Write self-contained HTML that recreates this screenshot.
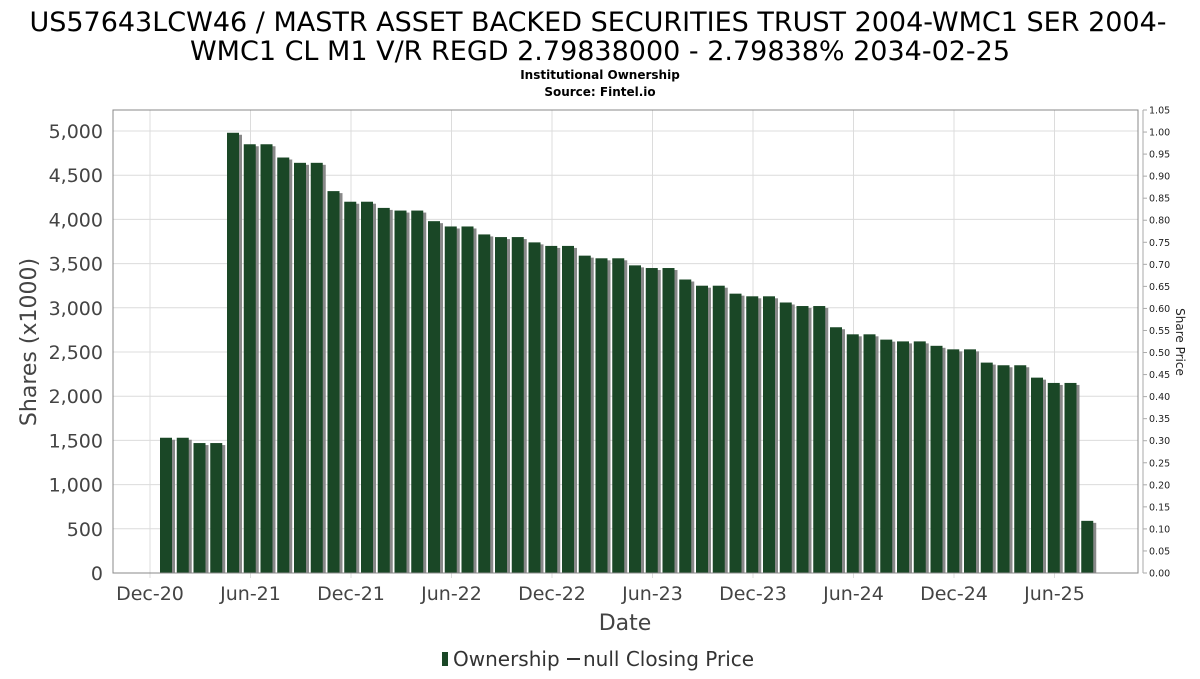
<!DOCTYPE html>
<html><head><meta charset="utf-8"><style>
body{margin:0;background:#fff;width:1200px;height:675px;overflow:hidden;font-family:"DejaVu Sans","Liberation Sans",sans-serif}
</style></head><body>
<svg id="c" width="1200" height="675" xmlns="http://www.w3.org/2000/svg">
<text x="598" y="31" text-anchor="middle" font-size="27" fill="#000">US57643LCW46 / MASTR ASSET BACKED SECURITIES TRUST 2004-WMC1 SER 2004-</text>
<text x="600" y="60" text-anchor="middle" font-size="27" fill="#000">WMC1 CL M1 V/R REGD 2.79838000 - 2.79838% 2034-02-25</text>
<text x="600" y="79" text-anchor="middle" font-size="12" font-weight="bold">Institutional Ownership</text>
<text x="600" y="96" text-anchor="middle" font-size="12" font-weight="bold">Source: Fintel.io</text>
<g id="grid"></g>
<g id="bars"></g>
<rect x="113" y="110" width="1025" height="463" fill="none" stroke="#888"/>
<g id="axes"></g>
<text x="36" y="342" transform="rotate(-90 36 342)" text-anchor="middle" font-size="22" fill="#444">Shares (x1000)</text>
<text x="1176" y="342" transform="rotate(90 1176 342)" text-anchor="middle" font-size="12" fill="#222">Share Price</text>
<text x="625" y="630" text-anchor="middle" font-size="22" fill="#444">Date</text>
<g>
<rect x="442" y="652" width="6" height="14" fill="#1a4726"/>
<text x="453" y="666" font-size="20" fill="#333">Ownership</text>
<line x1="567" y1="659" x2="580" y2="659" stroke="#333" stroke-width="2"/>
<text x="583" y="666" font-size="20" fill="#333">null Closing Price</text>
</g>
</svg>
<script>
const values=[1530,1530,1470,1470,4980,4850,4850,4700,4640,4640,4320,4200,4200,4130,4100,4100,3980,3920,3920,3830,3800,3800,3740,3700,3700,3590,3560,3560,3480,3450,3450,3320,3250,3250,3160,3130,3130,3060,3020,3020,2780,2700,2700,2640,2620,2620,2570,2530,2530,2380,2350,2350,2210,2150,2150,590];
const yTicks=[0,500,1000,1500,2000,2500,3000,3500,4000,4500,5000];
const xLabels=["Dec-20","Jun-21","Dec-21","Jun-22","Dec-22","Jun-23","Dec-23","Jun-24","Dec-24","Jun-25"];
const priceTicks=["0.00","0.05","0.10","0.15","0.20","0.25","0.30","0.35","0.40","0.45","0.50","0.55","0.60","0.65","0.70","0.75","0.80","0.85","0.90","0.95","1.00","1.05"];
const NS="http://www.w3.org/2000/svg";
const y=v=>573-v*(442/5000);
const xm=i=>160+i*16.75;
const xt=i=>150+i*100.5;
const py=p=>573-p*(463/1.05);
function mk(t,a,parent){const e=document.createElementNS(NS,t);for(const k in a)e.setAttribute(k,a[k]);document.getElementById(parent).appendChild(e);return e;}
yTicks.forEach((v,i)=>{
 const g=mk('line',{x1:113,x2:1138,y1:y(v),y2:y(v),stroke:'#dcdcdc'},'grid');
 
 
 const t=mk('text',{x:103,y:y(v)+7,'text-anchor':'end','font-size':19,fill:'#444'},'axes');
 t.textContent=v.toLocaleString('en-US');
 
 
});
xLabels.forEach((l,i)=>{
 const g=mk('line',{x1:xt(i),x2:xt(i),y1:110,y2:578,stroke:'#dcdcdc'},'grid');
 
 
 const t=mk('text',{x:xt(i),y:600,'text-anchor':'middle','font-size':19,fill:'#444'},'axes');
 t.textContent=l;
 
 
});
mk('line',{x1:1143,x2:1143,y1:110,y2:573,stroke:'#aaa'},'axes');
priceTicks.forEach((p,i)=>{
 const yy=py(parseFloat(p));
 mk('line',{x1:1143,x2:1147,y1:yy,y2:yy,stroke:'#aaa'},'axes');
 const t=mk('text',{x:1149,y:yy+3.5,'font-size':9.5,fill:'#222'},'axes');
 t.textContent=p;
 
 
});
values.forEach((v,i)=>{
 const x=xm(i);
 const s=mk('rect',{x:x+3,y:y(v)+2,width:12,height:573-y(v)-2,fill:'#888'},'bars');
 
 
 const b=mk('rect',{x:x,y:y(v),width:12,height:573-y(v),fill:'#1a4726'},'bars');
 
 
});
</script>
</body></html>
